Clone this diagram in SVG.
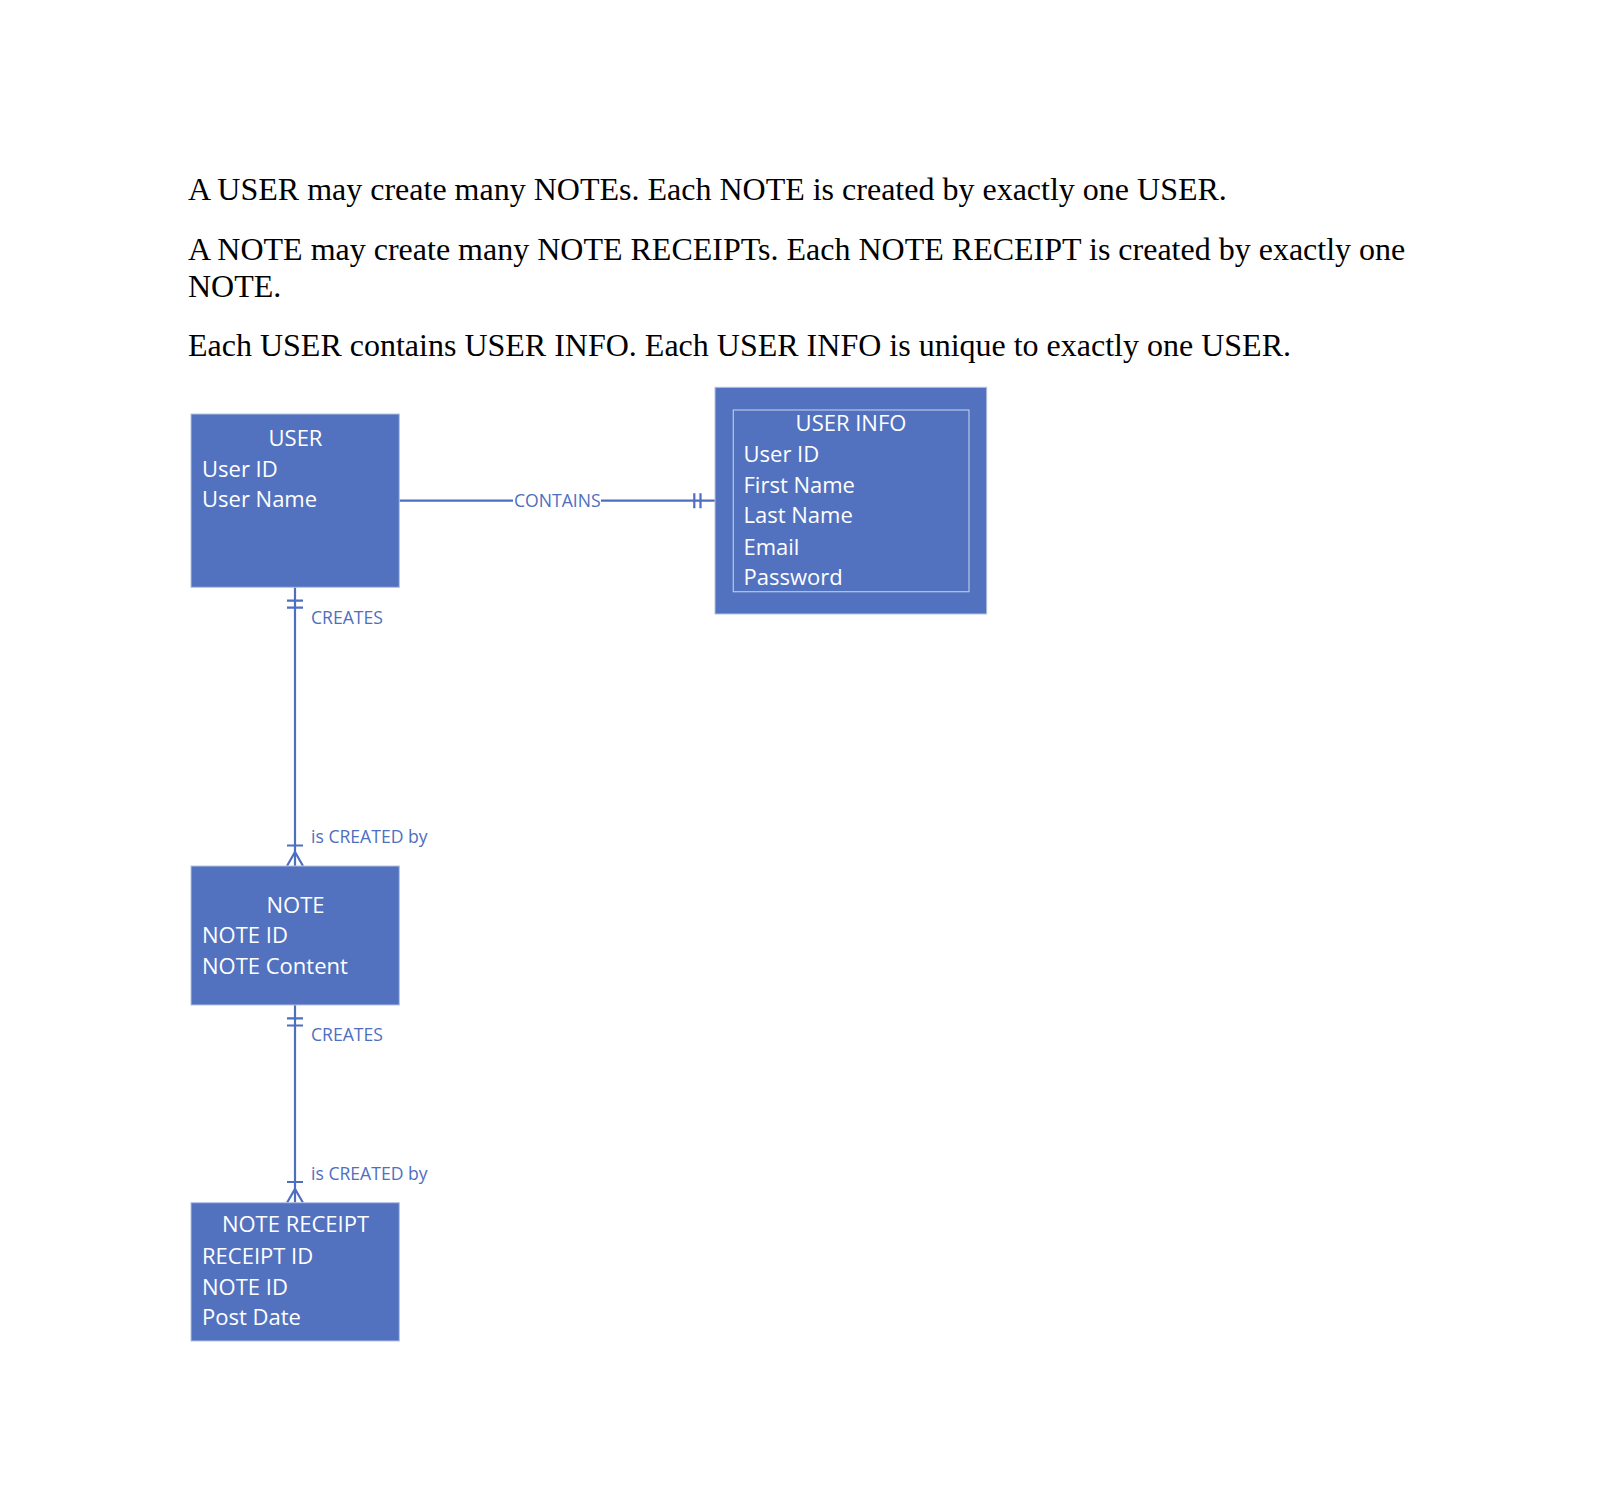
<svg xmlns="http://www.w3.org/2000/svg" width="1618" height="1502" viewBox="0 0 1618 1502">
<style>
.para{font-family:"Liberation Serif","Times New Roman",serif;font-size:32px;fill:#000}
.box{fill:#5272BF;stroke:#B4C1E2;stroke-width:1}
.inner{fill:none;stroke:#B9C6E6;stroke-width:1.2}
.t{font-family:"Open Sans","Noto Sans",sans-serif;font-size:22px;fill:#fff}
.tc{text-anchor:middle}
.lbl{font-family:"Open Sans","Noto Sans",sans-serif;font-size:17.6px;fill:#4E6EBF}
.ln{stroke:#4E6EBF;stroke-width:2.2;fill:none}
</style>
<rect width="1618" height="1502" fill="#fff"/>
<g id="text">
<text class="para" x="188" y="199.5">A USER may create many NOTEs. Each NOTE is created by exactly one USER.</text>
<text class="para" x="188" y="259.5">A NOTE may create many NOTE RECEIPTs. Each NOTE RECEIPT is created by exactly one</text>
<text class="para" x="188" y="296.7">NOTE.</text>
<text class="para" x="188" y="356">Each USER contains USER INFO. Each USER INFO is unique to exactly one USER.</text>
</g>
<g id="connectors">
<path class="ln" d="M399,500.7H513M601,500.7H715"/>
<path class="ln" d="M694.3,493.3V508.3M700.5,493.3V508.3"/>
<text class="lbl" x="514" y="506.5">CONTAINS</text>
<path class="ln" d="M295,587V866"/>
<path class="ln" d="M287,600.7H303M287,607.7H303"/>
<path class="ln" d="M287,845.5H303M287,866L295,852L303,866"/>
<text class="lbl" x="311" y="624">CREATES</text>
<text class="lbl" x="311" y="842.5">is CREATED by</text>
<path class="ln" d="M295,1005V1202.7"/>
<path class="ln" d="M287,1018.3H303M287,1025.5H303"/>
<path class="ln" d="M287,1182H303M287,1202.7L295,1189L303,1202.7"/>
<text class="lbl" x="311" y="1040.7">CREATES</text>
<text class="lbl" x="311" y="1180">is CREATED by</text>
</g>
<g id="user">
<rect class="box" x="191" y="414" width="208.3" height="173.3"/>
<text class="t tc" x="295.5" y="445.7">USER</text>
<text class="t" x="202" y="476.7">User ID</text>
<text class="t" x="202" y="507.3">User Name</text>
</g>
<g id="user-info">
<rect class="box" x="715" y="387.3" width="271.7" height="226.7"/>
<rect class="inner" x="733.3" y="410" width="235.7" height="181.7"/>
<text class="t tc" x="851" y="430.7">USER INFO</text>
<text class="t" x="743.5" y="461.7">User ID</text>
<text class="t" x="743.5" y="492.7">First Name</text>
<text class="t" x="743.5" y="523.3">Last Name</text>
<text class="t" x="743.5" y="554.7">Email</text>
<text class="t" x="743.5" y="585">Password</text>
</g>
<g id="note">
<rect class="box" x="191" y="866" width="208.3" height="139"/>
<text class="t tc" x="295.5" y="912.7">NOTE</text>
<text class="t" x="202" y="943.3">NOTE ID</text>
<text class="t" x="202" y="974">NOTE Content</text>
</g>
<g id="note-receipt">
<rect class="box" x="191" y="1202.7" width="208.3" height="138.3"/>
<text class="t tc" x="295.5" y="1232.3">NOTE RECEIPT</text>
<text class="t" x="202" y="1264">RECEIPT ID</text>
<text class="t" x="202" y="1294.7">NOTE ID</text>
<text class="t" x="202" y="1325">Post Date</text>
</g>
</svg>
